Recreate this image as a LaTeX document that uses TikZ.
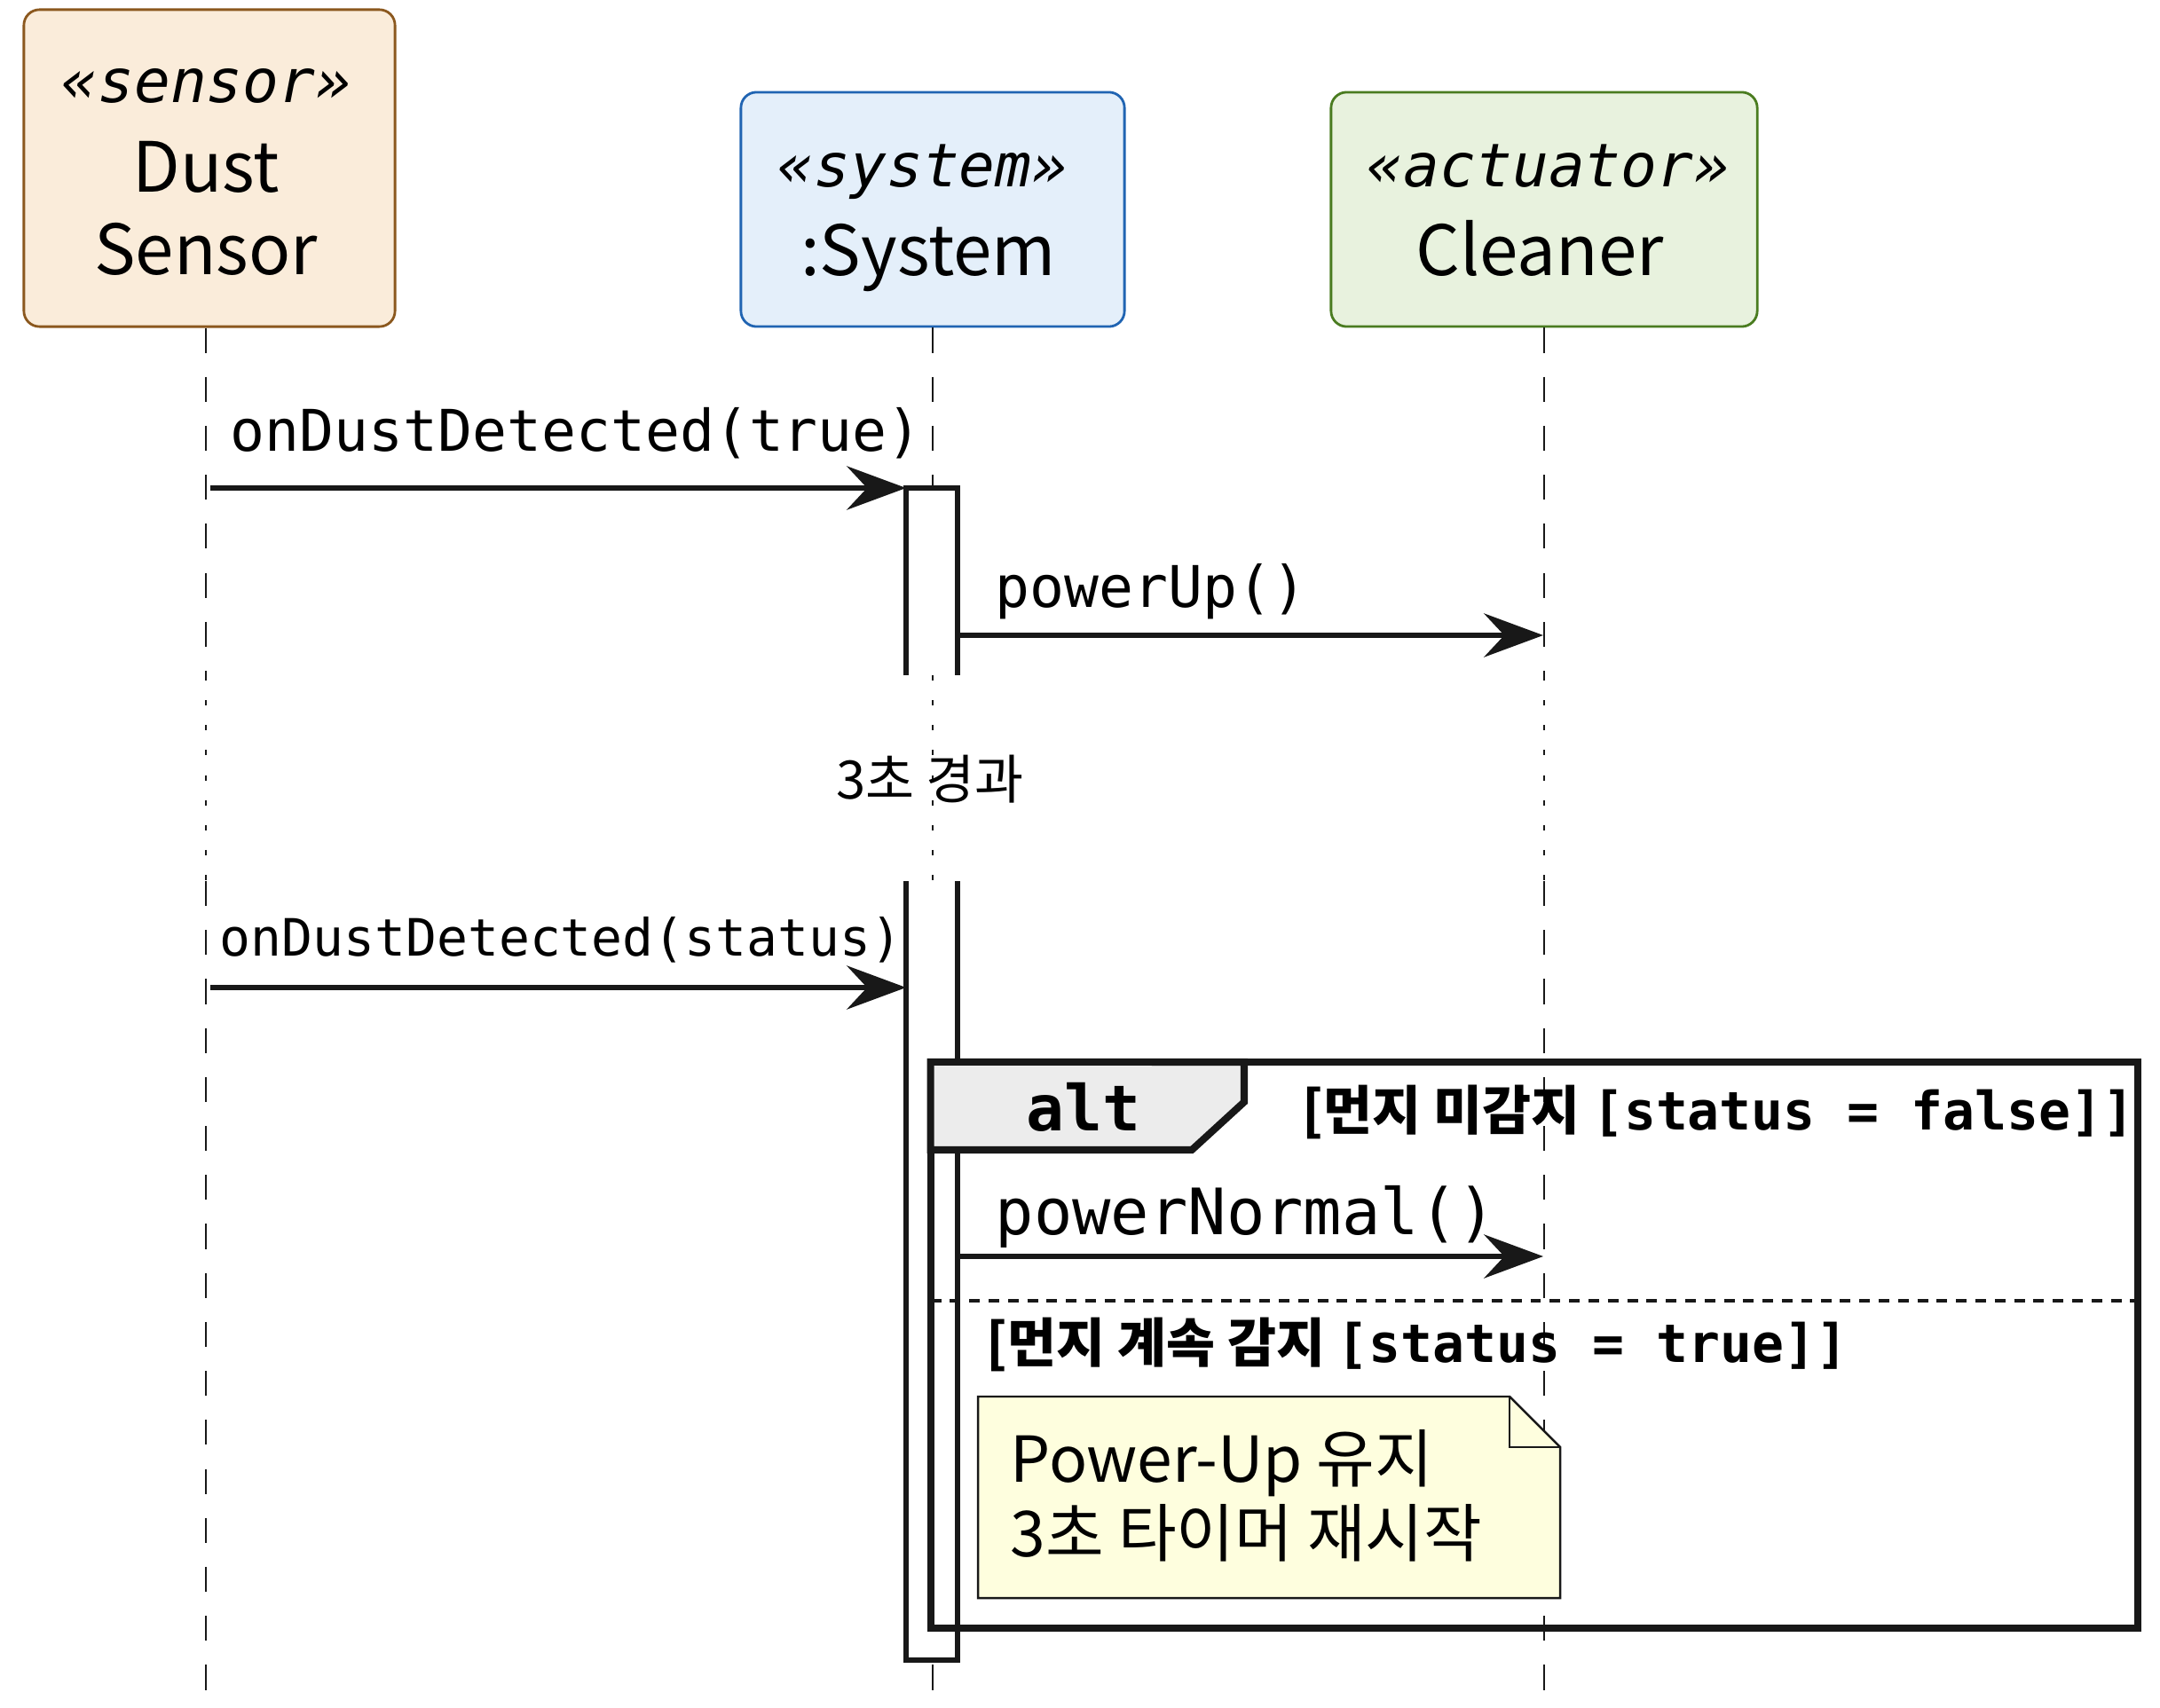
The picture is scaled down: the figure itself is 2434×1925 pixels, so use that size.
\documentclass[tikz,border=0pt]{standalone}
\usepackage{fontspec}
\setmainfont{Noto Sans CJK KR}
\setmonofont{DejaVu Sans Mono}
\usetikzlibrary{arrows.meta}

\definecolor{ink}{RGB}{24,24,24}
\definecolor{sensorfill}{RGB}{250,236,218}
\definecolor{sensorline}{RGB}{139,88,30}
\definecolor{systemfill}{RGB}{228,239,250}
\definecolor{systemline}{RGB}{32,100,178}
\definecolor{cleanerfill}{RGB}{232,242,222}
\definecolor{cleanerline}{RGB}{74,124,32}
\definecolor{notefill}{RGB}{254,254,222}
\definecolor{tabfill}{RGB}{236,236,236}

\newcommand{\sz}[1]{\fontsize{#1}{#1}\selectfont}

\tikzset{
    part/.style={draw, rounded corners=5pt, line width=0.8pt, inner sep=0pt, minimum height=2.64cm},
    stereo/.style={anchor=base, inner sep=0pt, font=\ttfamily\itshape\sz{19.3pt}},
    partname/.style={anchor=base, inner sep=0pt, font=\sz{22.2pt}},
    lifeline/.style={draw=ink, line width=0.8pt, dash pattern=on 8pt off 7.7pt},
    delayline/.style={draw=ink, line width=0.7pt, dash pattern=on 1.7pt off 6.3pt},
    msg/.style={draw=ink, line width=1.6pt, -{Stealth[length=19pt, width=14pt, inset=6.5pt]}},
    msglabel/.style={anchor=base west, inner sep=0pt, font=\ttfamily\sz{18.4pt}},
    actbar/.style={draw=ink, line width=1.6pt, fill=white},
    frame/.style={draw=ink, line width=2.3pt},
    guard/.style={anchor=base west, inner sep=0pt, font=\bfseries\sz{17pt}},
    note/.style={draw=ink, line width=0.7pt, fill=notefill},
    notetext/.style={anchor=base west, inner sep=0pt, font=\sz{20.3pt}}
}

\begin{document}
\begin{tikzpicture}[x=0.01cm, y=-0.01cm]
    \useasboundingbox (0,0) rectangle (2434,1925);
    % participants
    \node[part, fill=sensorfill, draw=sensorline, minimum width=4.18cm, minimum height=3.57cm] (dust) at (236,189.5) {};
    \node[part, fill=systemfill, draw=systemline, minimum width=4.32cm] (sys) at (1051,236) {};
    \node[part, fill=cleanerfill, draw=cleanerline, minimum width=4.8cm] (clean) at (1740,236) {};
    \node[stereo] (dustst) at (233,116) {«sensor»};
    \node[partname] (dustn1) at (232,217) {Dust};
    \node[partname] (dustn2) at (232,310) {Sensor};
    \node[stereo] (sysst) at (1040,211) {«system»};
    \node[partname] (sysn) at (1046,311) {:System};
    \node[stereo] (cleanst) at (1745,211) {«actuator»};
    \node[partname] (cleann) at (1735,311) {Cleaner};

    % lifelines with the delay
    \coordinate (gapA) at (0,761);
    \coordinate (gapB) at (0,993);
    \coordinate (bottom) at (0,1925);
    \foreach \p/\dx in {dust/-0.04cm, sys/0cm, clean/0cm}{
        \draw[lifeline] ([xshift=\dx]\p.south) -- ([xshift=\dx]\p.south |- gapA);
        \draw[delayline] ([xshift=\dx]\p.south |- gapA) -- ([xshift=\dx]\p.south |- gapB);
        \draw[lifeline] ([xshift=\dx]\p.south |- gapB) -- ([xshift=\dx]\p.south |- bottom);
    }
    \node[anchor=base, inner sep=0pt, font=\sz{17pt}] (wait) at (1048,900) {3초 경과};

    % activation bars
    \coordinate (act1) at (1021,550);
    \coordinate (act1e) at (1079,550);
    \coordinate (act2) at (1021,1871);
    \filldraw[actbar] (act1 |- gapA) -- (act1) -- (act1e) -- (act1e |- gapA);
    \filldraw[actbar] (act2 |- gapB) -- (act2) -- (1079,1871) -- (1079,993);

    % alt fragment
    \node[frame, minimum width=13.6cm, minimum height=6.38cm, inner sep=0pt, outer sep=0pt] (alt) at (1729,1516) {};
    \filldraw[frame, fill=tabfill] (alt.north west) -- (1402,1197) -- (1402,1242) -- (1343,1296) -- (alt.west |- 0,1296) -- cycle;
    \coordinate (sep) at (0,1466);
    \draw[ink, line width=1.4pt, dash pattern=on 3.4pt off 2.8pt] (alt.west |- sep) -- (alt.east |- sep);
    \node[anchor=base, inner sep=0pt, font=\ttfamily\bfseries\sz{20.3pt}] (altlabel) at (1221,1274) {alt};
    \node[guard] (guard1) at (1467,1273) {[먼지 미감지 {\ttfamily[status = false]]}};
    \node[guard] (guard2) at (1111,1535) {[먼지 계속 감지 {\ttfamily[status = true]]}};

    % note
    \filldraw[note] (1102,1574) -- (1701,1574) -- (1758,1631) -- (1758,1801) -- (1102,1801) -- cycle;
    \draw[note, fill=none] (1701,1574) -- (1701,1631) -- (1758,1631);
    \node[notetext] (note1) at (1138,1670) {Power-Up 유지};
    \node[notetext] (note2) at (1138,1754) {3초 타이머 재시작};

    % messages
    \coordinate (up) at (1739,716);
    \coordinate (det) at (1021,1113);
    \coordinate (norm) at (1739,1416);
    \draw[msg] ([xshift=0.01cm]dust.south |- act1) -- (act1);
    \draw[msg] (act1e |- up) -- (up);
    \draw[msg] ([xshift=0.01cm]dust.south |- det) -- (det);
    \draw[msg] (act1e |- norm) -- (norm);
    \node[msglabel] (lab1) at (259,509) {onDustDetected(true)};
    \node[msglabel] (lab2) at (1121,684) {powerUp()};
    \node[msglabel, font=\ttfamily\sz{16.5pt}] (lab3) at (247,1077) {onDustDetected(status)};
    \node[msglabel, font=\ttfamily\sz{20.5pt}] (lab4) at (1121,1391) {powerNormal()};
\end{tikzpicture}
\end{document}
